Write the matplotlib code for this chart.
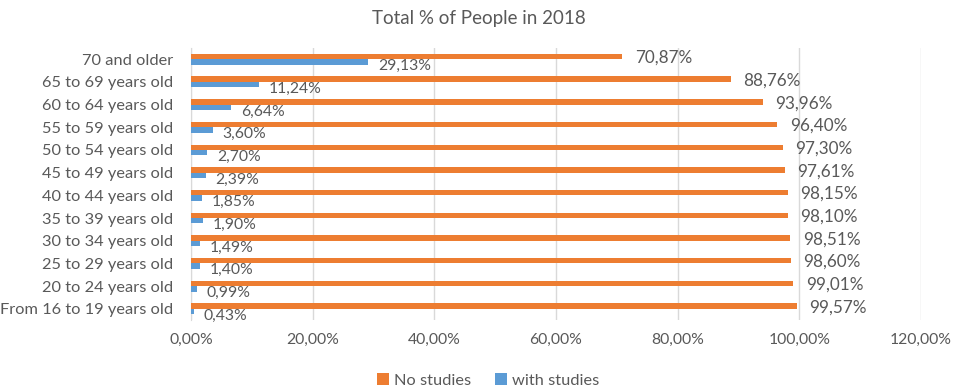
import matplotlib
matplotlib.use("Agg")
from matplotlib import pyplot as plt
from matplotlib.ticker import FuncFormatter
import numpy as np

# bottom to top, as in the chart
grupos = ["From 16 to 19 years old", "20 to 24 years old", "25 to 29 years old",
          "30 to 34 years old", "35 to 39 years old", "40 to 44 years old",
          "45 to 49 years old", "50 to 54 years old", "55 to 59 years old",
          "60 to 64 years old", "65 to 69 years old", "70 and older"]
sin_estudios = [99.57, 99.01, 98.60, 98.51, 98.10, 98.15, 97.61, 97.30, 96.40, 93.96, 88.76, 70.87]
con_estudios = [0.43, 0.99, 1.40, 1.49, 1.90, 1.85, 2.39, 2.70, 3.60, 6.64, 11.24, 29.13]

naranja = "#ED7D31"
azul = "#5B9BD5"
gris = "#595959"

plt.rcParams['font.family'] = ['Lato', 'DejaVu Sans']

fig = plt.figure(figsize=(9.57, 3.89), dpi=100)
ax = fig.add_axes([0.1996, 0.177, 0.7628, 0.70])

y = np.arange(len(grupos))
alto = 0.24
b1 = ax.barh(y + alto / 2, sin_estudios, height=alto, color=naranja, label="No studies", zorder=3)
b2 = ax.barh(y - alto / 2, con_estudios, height=alto, color=azul, label="with studies", zorder=3)

fmt = lambda v: f"{v:.2f}%".replace(".", ",")
for yi, v in zip(y, sin_estudios):
    ax.annotate(fmt(v), (v, yi + alto / 2), xytext=(9, -1), textcoords="offset points",
                va="center", ha="left", fontsize=12.3, color=gris)
for yi, v in zip(y, con_estudios):
    ax.annotate(fmt(v), (v, yi - alto / 2), xytext=(7, -3), textcoords="offset points",
                va="center", ha="left", fontsize=11.3, color=gris)

ax.set_xlim(0, 120)
ax.set_ylim(-0.5, len(grupos) - 0.5)
ax.set_xticks(np.arange(0, 121, 20))
ax.xaxis.set_major_formatter(FuncFormatter(lambda v, p: f"{v:.2f}%".replace(".", ",")))
ax.set_yticks(y)
ax.set_yticklabels(grupos)
ax.tick_params(axis="both", length=0, colors=gris)
ax.tick_params(axis="x", pad=9, labelsize=11.3)
ax.tick_params(axis="y", pad=13, labelsize=11.8)
ax.grid(axis="x", color="#d9d9d9", linewidth=1, zorder=0)
for s in ["top", "right", "bottom"]:
    ax.spines[s].set_visible(False)
ax.spines["left"].set_color("#d9d9d9")

fig.suptitle("Total % of People in 2018", y=0.975, fontsize=13.5, color=gris)
fig.legend(handles=[b1, b2], loc="lower center", ncol=2, frameon=False, fontsize=11.8,
           labelcolor=gris, handlelength=0.7, handleheight=0.7, handletextpad=0.3,
           columnspacing=1.5, bbox_to_anchor=(0.51, -0.035))

fig.savefig("out.png", dpi=100)
